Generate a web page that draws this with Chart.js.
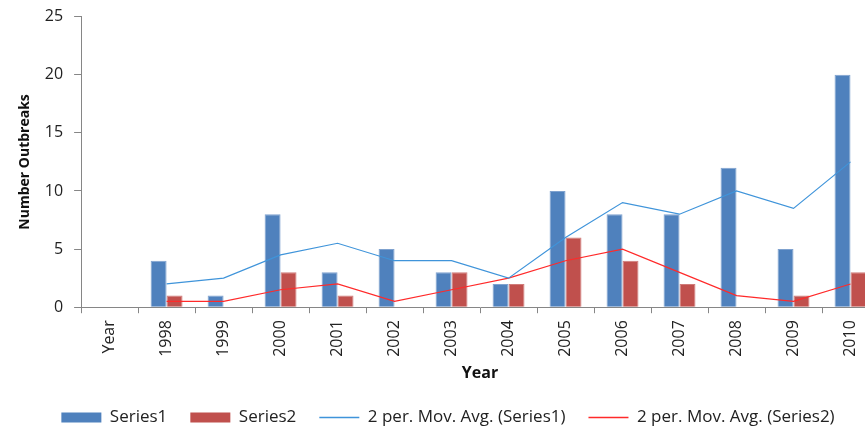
<!DOCTYPE html>
<html><head><meta charset="utf-8">
<script src="https://cdn.jsdelivr.net/npm/chart.js@4.4.0/dist/chart.umd.min.js"></script>
<style>
html,body{margin:0;padding:0;background:#fff;overflow:hidden;}
#wrap{width:865px;height:430px;overflow:hidden;position:relative;}
#box{width:890px;height:440px;position:absolute;left:0;top:-4px;}
</style></head>
<body><div id="wrap"><div id="box"><canvas id="c" width="890" height="440"></canvas></div></div>
<script>
const categories = ["Year","1998","1999","2000","2001","2002","2003","2004","2005","2006","2007","2008","2009","2010"];
const series1 = [null,4,1,8,3,5,3,2,10,8,8,12,5,20];
const series2 = [null,1,0,3,1,0,3,2,6,4,2,0,1,3];
const movAvg1 = [null,2,2.5,4.5,5.5,4,4,2.5,6,9,8,10,8.5,12.5];
const movAvg2 = [null,0.5,0.5,1.5,2,0.5,1.5,2.5,4,5,3,1,0.5,2];
const yTicks = [0,5,10,15,20,25];

const FONT = "'Open Sans', sans-serif";
const axisColor = '#868686';

new Chart(document.getElementById('c'), {
  type: 'bar',
  data: {
    labels: categories,
    datasets: [
      {label:'Series1', data: series1, backgroundColor:'#4F81BD', borderColor:'#7FA2CF', borderWidth:1, order:2, categoryPercentage:0.56, barPercentage:1.0},
      {label:'Series2', data: series2, backgroundColor:'#C0504D', borderColor:'#D07B79', borderWidth:1, order:2, categoryPercentage:0.56, barPercentage:1.0},
      {type:'line', label:'2 per. Mov. Avg. (Series1)', data: movAvg1, borderColor:'#3F94DA', backgroundColor:'#3F94DA', borderWidth:1.2, pointRadius:0, tension:0, order:0},
      {type:'line', label:'2 per. Mov. Avg. (Series2)', data: movAvg2, borderColor:'#FF2A2A', backgroundColor:'#FF2A2A', borderWidth:1.2, pointRadius:0, tension:0, order:0}
    ]
  },
  options: {
    responsive:false, animation:false, devicePixelRatio:1,
    layout:{padding:{left:17,right:11,top:3,bottom:0}},
    plugins:{
      tooltip:{enabled:false},
      legend:{
        position:'bottom',
        labels:{
          font:{family:FONT,size:17}, color:'#222',
          usePointStyle:true, pointStyleWidth:40, boxHeight:10, padding:23,
          generateLabels(chart){
            const items = Chart.defaults.plugins.legend.labels.generateLabels(chart);
            items.sort((a,b)=>a.datasetIndex-b.datasetIndex);
            items.forEach(it=>{
              if(it.datasetIndex<2){ it.pointStyle='rect'; it.lineWidth=0; it.strokeStyle=it.fillStyle; }
              else { it.pointStyle='line'; it.lineWidth=1.5; }
            });
            return items;
          }
        }
      }
    },
    scales:{
      x:{
        offset:true,
        grid:{offset:true, drawOnChartArea:false, tickLength:6, color:axisColor},
        border:{color:axisColor},
        ticks:{font:{family:FONT,size:16}, color:'#222', minRotation:90, maxRotation:90, autoSkip:false, padding:7},
        title:{display:true, text:'Year', font:{family:FONT,size:16,weight:'bold'}, color:'#111', padding:{top:0,bottom:3}}
      },
      y:{
        min:0, max:25,
        afterBuildTicks(axis){ axis.ticks = yTicks.map(v=>({value:v})); },
        grid:{drawOnChartArea:false, tickLength:7, color:axisColor},
        border:{color:axisColor},
        ticks:{font:{family:FONT,size:16}, color:'#222', padding:11},
        title:{display:true, text:'Number Outbreaks', font:{family:FONT,size:14,weight:'bold'}, color:'#111', padding:{top:0,bottom:0}}
      }
    }
  }
});
</script></body></html>
